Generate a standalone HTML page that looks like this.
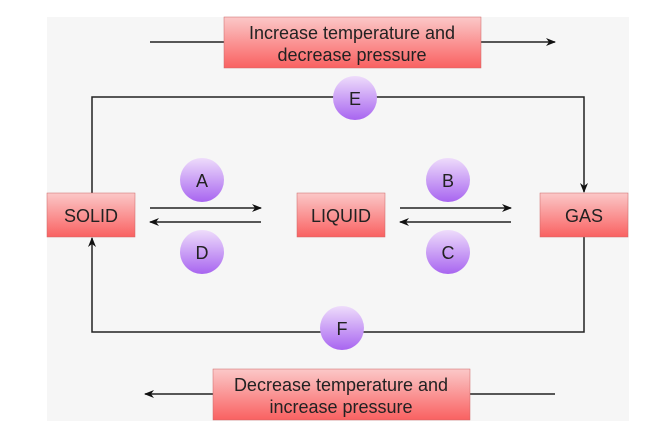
<!DOCTYPE html>
<html><head><style>
body{margin:0;width:662px;height:437px;background:#fff;overflow:hidden}
</style></head><body>
<svg width="662" height="437" xmlns="http://www.w3.org/2000/svg" font-family="Liberation Sans, sans-serif">
<defs>
<linearGradient id="r" x1="0" y1="0" x2="0" y2="1"><stop offset="0" stop-color="#fbc8c8"/><stop offset="1" stop-color="#f96161"/></linearGradient>
<linearGradient id="p" x1="0" y1="0" x2="0" y2="1"><stop offset="0" stop-color="#eedcfb"/><stop offset="1" stop-color="#a865f0"/></linearGradient>
<marker id="a" markerWidth="10" markerHeight="8" refX="9" refY="4" orient="auto" markerUnits="userSpaceOnUse"><path d="M0,0 L10,4 L0,8 L3,4 Z" fill="#111"/></marker>
</defs>
<rect x="47" y="17" width="582" height="404" fill="#f6f6f6"/>
<g stroke="#222" stroke-width="1.5" fill="none">
<line x1="150" y1="42" x2="555" y2="42" marker-end="url(#a)"/>
<line x1="555" y1="394" x2="145" y2="394" marker-end="url(#a)"/>
<polyline points="92,193 92,97 584,97 584,192" marker-end="url(#a)"/>
<polyline points="584,237 584,332 92,332 92,238" marker-end="url(#a)"/>
<line x1="150" y1="208" x2="261" y2="208" marker-end="url(#a)"/>
<line x1="261" y1="222" x2="150" y2="222" marker-end="url(#a)"/>
<line x1="400" y1="208" x2="511" y2="208" marker-end="url(#a)"/>
<line x1="511" y1="222" x2="400" y2="222" marker-end="url(#a)"/>
</g>
<g stroke="#c66" stroke-width="0.5" fill="url(#r)">
<rect x="224" y="17" width="257" height="51"/>
<rect x="213" y="369" width="257" height="51"/>
<rect x="47" y="193" width="88" height="44"/>
<rect x="297" y="193" width="88" height="44"/>
<rect x="540" y="193" width="88" height="44"/>
</g>
<g fill="url(#p)">
<circle cx="355" cy="98" r="22"/><circle cx="342" cy="328" r="22"/>
<circle cx="202" cy="180" r="22"/><circle cx="202" cy="252" r="22"/>
<circle cx="448" cy="180" r="22"/><circle cx="448" cy="252" r="22"/>
</g>
<g fill="#222" font-size="18" text-anchor="middle">
<text x="352" y="39">Increase temperature and</text>
<text x="352" y="61">decrease pressure</text>
<text x="341" y="391">Decrease temperature and</text>
<text x="341" y="413">increase pressure</text>
<text x="91" y="222">SOLID</text>
<text x="341" y="222">LIQUID</text>
<text x="584" y="222">GAS</text>
<text x="355" y="105">E</text><text x="342" y="335">F</text>
<text x="202" y="187">A</text><text x="202" y="259">D</text>
<text x="448" y="187">B</text><text x="448" y="259">C</text>
</g>
</svg>
</body></html>
